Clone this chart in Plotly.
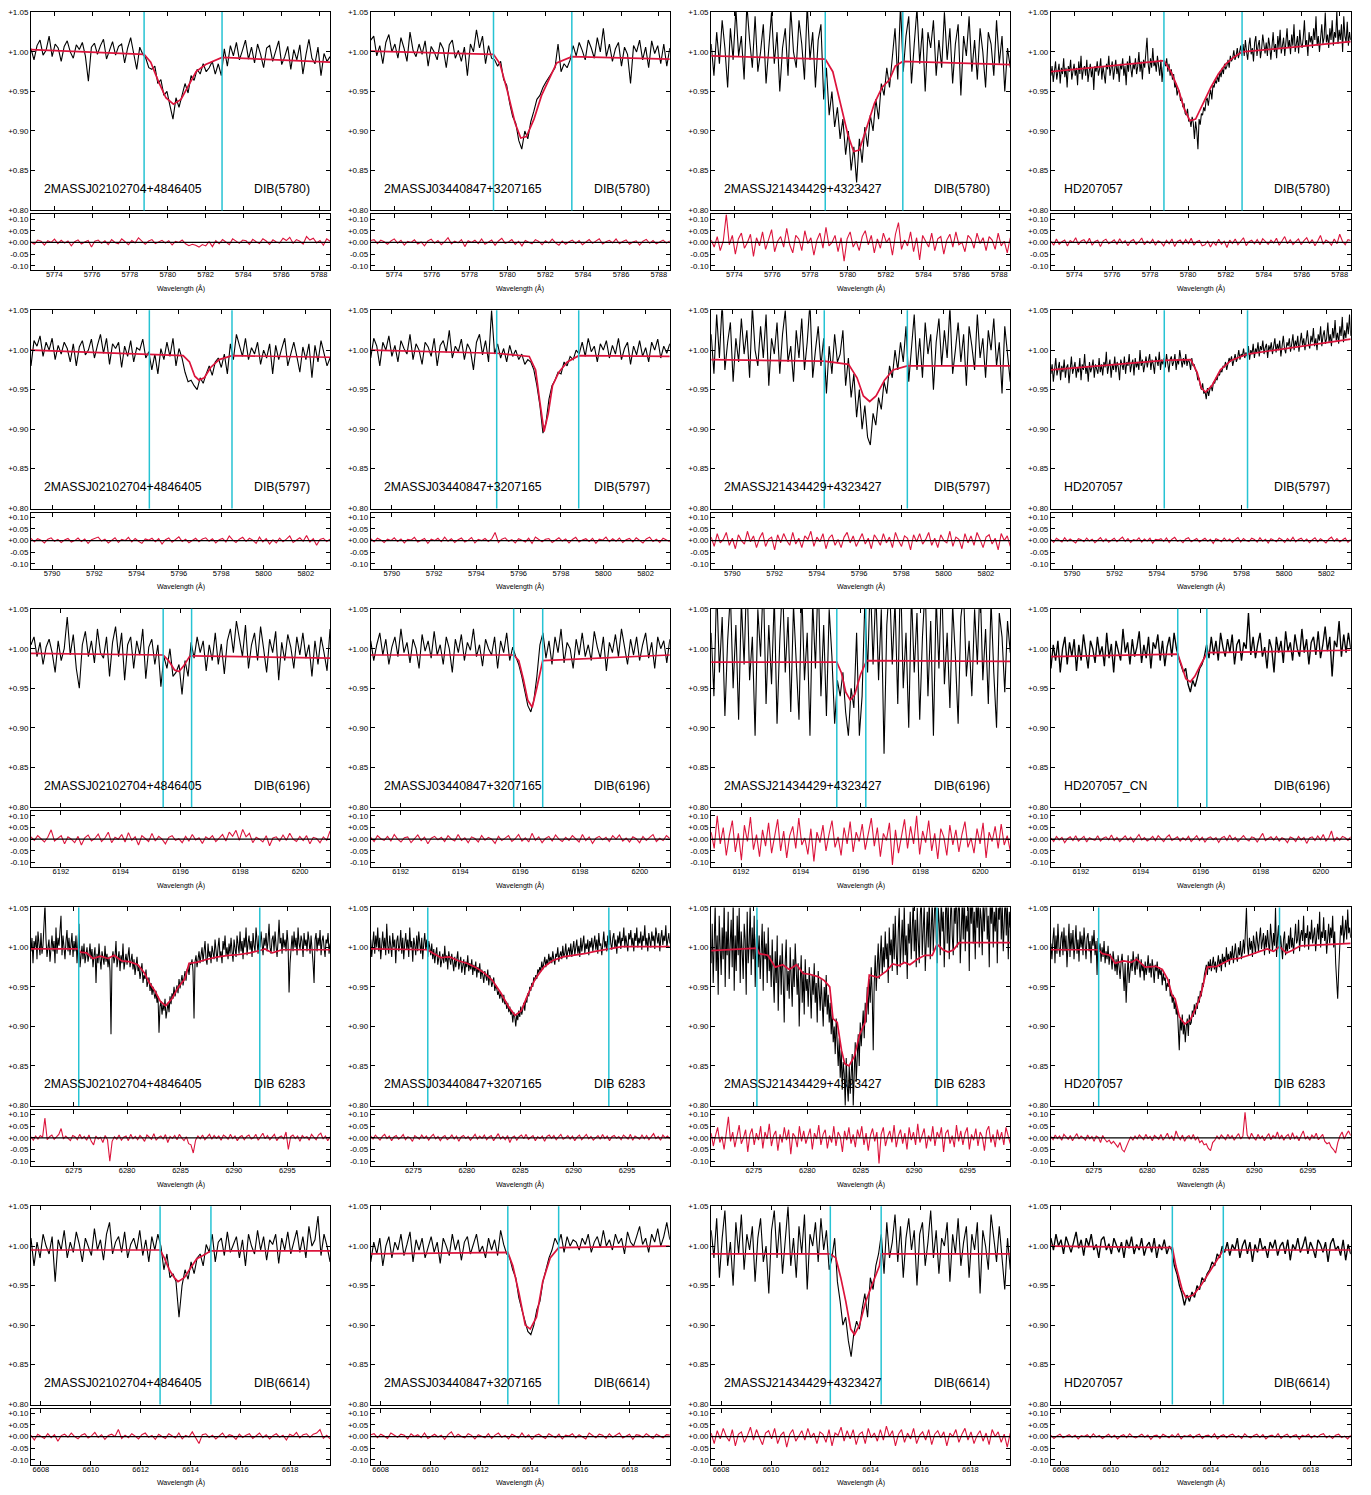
import numpy as np
import plotly.graph_objects as go

W, H = 1371, 1495
PAGE_OFF = 8  # default body margin of the html page

# ---------------- axes per row (wavelength in Angstrom) ----------------
X_RANGES = [[5772.77, 5788.58], [5789.0, 5803.15], [6191.0, 6201.0], [6271.0, 6299.0], [6607.6, 6619.6]]
X_TICKS = [[5774, 5776, 5778, 5780, 5782, 5784, 5786, 5788],
           [5790, 5792, 5794, 5796, 5798, 5800, 5802],
           [6192, 6194, 6196, 6198, 6200],
           [6275, 6280, 6285, 6290, 6295],
           [6608, 6610, 6612, 6614, 6616, 6618]]
Y_MAIN_TICKS = [0.80, 0.85, 0.90, 0.95, 1.00, 1.05]
Y_MAIN_TEXT = ['+0.80', '+0.85', '+0.90', '+0.95', '+1.00', '+1.05']
Y_RES_TICKS = [-0.10, -0.05, 0.0, 0.05, 0.10]
Y_RES_TEXT = ['-0.10', '-0.05', '+0.00', '+0.05', '+0.10']

DIB_LABELS = ['DIB(5780)', 'DIB(5797)', 'DIB(6196)', 'DIB 6283', 'DIB(6614)']
STARS = ['2MASSJ02102704+4846405', '2MASSJ03440847+3207165', '2MASSJ21434429+4323427', 'HD207057']
STAR_NAMES = [STARS, STARS, STARS[:3] + ['HD207057_CN'], STARS, STARS]

# integration windows (cyan lines)
WINDOWS = [[[5778.75, 5782.87], [5779.26, 5783.40], [5778.80, 5782.90], [5778.73, 5782.85]],
           [[5794.60, 5798.51], [5794.96, 5798.84], [5794.35, 5798.28], [5794.35, 5798.28]],
           [[6195.42, 6196.37], [6195.78, 6196.75], [6195.20, 6196.17], [6195.23, 6196.20]],
           [[6275.47, 6292.42], [6276.34, 6293.29], [6275.28, 6292.14], [6275.46, 6292.35]],
           [[6612.78, 6614.82], [6613.10, 6615.14], [6612.38, 6614.42], [6612.46, 6614.50]]]

# ---------------- spectra: (flux - 1) x 1000, sampled uniformly over the row range ----------------
S11 = [4, -10, 8, 15, -4, 2, 20, -6, 10, 5, -12, 7, 14, 0, -8, 9, 3, 12, -5, -37,
       6, 11, -3, 8, 16, -9, 2, 13, -4, 7, 10, -14, 5, 18, -2, -22, 6, -3, -8, -20,
       -22, -18, -40, -35, -55, -50, -68, -85, -58, -70, -55, -40, -52, -30, -36, -22, -28, -15, -25, -20,
       -12, -28, -15, -30, 4, -18, 8, -5, 12, -10, 2, 15, -9, 6, -14, 10, -3, -20, 5, 8,
       -12, 0, 14, -16, -6, 7, -22, 3, -10, 9, -28, -4, 16, -8, -15, 6, -30, -2, -12, -6]
S12 = [15, 20, -5, 8, -15, 12, 22, 0, 10, -8, 18, 5, -12, 25, 2, -6, 10, -3, 14, -18,
       7, 0, -10, 12, 4, -20, 9, 15, -8, 2, -12, 6, -30, 10, 0, 28, 5, 20, -15, 8,
       -8, -10, -18, -12, -35, -42, -65, -82, -90, -112, -123, -100, -110, -88, -75, -60, -55, -45, -38, -32,
       -25, -20, 10, -25, -15, -20, -10, 8, -5, 12, 2, -10, 15, 5, -8, 18, 0, 30, -6, 10,
       -12, 4, 12, -18, 6, -3, -40, 8, 0, 15, -10, 6, -20, 14, -2, 8, -15, 10, -18, 5]
S13 = [10, -30, 25, -15, 40, 5, -45, 30, -10, 55, -5, 20, -35, 60, 15, -20, 45, -25, 0, 35,
       -40, 10, 50, -15, 25, -50, 5, 30, -30, 55, 0, -20, 40, 10, -35, 60, -10, 25, -45, 15,
       35, -60, -20, -80, -50, -95, -70, -110, -85, -130, -100, -150, -120, -165, -110, -140, -95, -120, -80, -100,
       -60, -85, -40, -55, -20, -45, -10, 30, -35, 60, -25, 20, 45, -40, 10, 55, -15, 30, -50, 25,
       5, 40, -30, 15, -20, 50, -10, 30, -40, 10, 35, -55, 20, -5, 45, -25, 15, -35, 30, 0,
       -45, 25, 10, -30, 40, -15, 20, -50, 5, -20]
S14 = [-30, -18, -38, -22, -12, -35, -25, -15, -40, -20, -28, -8, -32, -20, -45, -18, -25, -10, -35, -22,
       -15, -30, -20, -42, -12, -28, -5, -35, -22, -18, -30, -10, -38, -25, -15, -32, -20, -48, -18, -25,
       -12, -30, -22, -8, -35, -18, -28, -40, -15, -22, -5, -30, -20, -12, -35, -25, -10, -28, -18, -38,
       -15, -22, -8, -30, -18, -42, -12, -25, -5, -20, -32, -15, -22, -8, -28, -18, 0, -25, -12, -35,
       -10, -20, -5, 18, -15, -28, -8, -20, 5, -18, -12, -25, -5, -15, -30, -10, -38, -20,
       -12, -18, -8, -25, -15, -30, -22, -35, -28, -45, -40, -55, -48, -50, -62, -58, -70, -65, -78, -80, -72, -88,
       -85, -95, -82, -90, -110, -88, -100, -123, -85, -92, -78, -80, -70, -75, -62, -58, -68, -55, -48, -60,
       -42, -45, -35, -40, -30, -38, -25, -32, -20, -28, -15, -22, -18, -10, -20, -5, -12, -8, 2, -10, -5, 5, -8, 0, 8, -5,
       10, -5, 15, 0, -10, 8, 18, -3, 5, -12, 12, 20, -5, 8, 15, -8, 3, 22, 5, -2,
       12, -5, 18, 8, -10, 15, 25, 0, 10, -8, 20, 5, 28, -2, 12, 18, -5, 10, 30, 5,
       15, -3, 22, 8, 35, 0, 12, 20, -2, 28, 10, 5, 18, 40, 8, 15, -5, 25, 12, 20,
       5, 30, 15, 45, 8, 20, 0, 25, 35, 10, 18, 50, 12, 22, 5, 30, 15, 40, 8, 25,
       18, 52, 10, 28, 15, 35, 0, 45, 20, 12, 38, 8, 25, 15]
S21 = [-20, 12, 5, 18, -8, 10, 0, 15, -12, 6, -5, 10, 2, -15, 8, -20, 4, 12, -6, 0,
       14, -10, 6, 20, -4, 15, -18, 8, 2, 10, -22, 5, -8, 12, -15, 3, 0, 14, -10, -2,
       -25, -5, -30, 2, -12, 10, -8, 15, -20, 2, -10, -28, -40, -38, -45, -50, -35, -42, -30, -20,
       -32, -15, -10, -22, -5, -30, 8, -12, 20, 5, -8, 15, -12, 3, -5, 10, -18, 0, -10, 8,
       -30, 6, -12, 2, 15, -20, -5, 10, -8, -28, 4, -12, 8, -35, 6, -15, 12, -5, -20, -10]
S22 = [-10, 15, 5, -20, 10, 0, 18, -8, 6, -15, 12, 2, -5, 20, -12, 8, 0, -18, 10, 4,
       -8, 15, -20, 6, 12, -3, 25, -10, 5, -2, 14, -12, 8, 0, -25, 10, 20, -6, 12, -15,
       50, -5, 8, -10, 2, -15, 6, -8, 0, -12, -5, -18, -12, -15, -25, -45, -70, -105, -92, -62,
       -45, -38, -28, -30, -15, -20, -8, -12, 0, -5, 10, -8, 15, -2, 5, -15, 8, 0, 12, -10,
       6, -5, 15, -12, 2, 10, -18, 5, -6, 12, -8, 3, -15, 10, 0, 14, -10, 5, -4, 8]
S23 = [20, -30, 45, -10, 60, -25, 10, 35, -40, 15, -15, 40, -5, 25, -35, 55, 0, -20, 30, -10,
       45, -45, 15, -5, 35, -30, 20, 50, -15, 5, -40, 25, -10, 40, -25, 10, 60, -35, 0, 30,
       -20, 15, -55, 5, -30, 20, -15, -5, 25, -45, -10, -60, -30, -85, -50, -100, -70, -110, -120, -80,
       -95, -60, -75, -40, -55, -20, -35, 0, -25, 10, -15, 30, -40, 5, 45, -25, 15, -35, 35, -5,
       20, -50, 10, 40, -20, 25, -10, 55, -30, 0, 35, -15, 20, -45, 30, 5, -25, 45, -10, 15,
       -35, 25, 0, 40, -20, 10, -55, 30, -5, -40]
S24 = [-30, -18, -40, -22, -10, -32, -25, -15, -38, -20, -28, -12, -35, -22, -18, -42, -25, -8, -30, -20,
       -15, -35, -22, -28, -10, -38, -18, -25, -5, -30, -20, -40, -15, -28, -22, -12, -35, -18, -25, -30,
       -10, -28, -18, -32, -15, -22, -2, -30, -20, -12, -35, -18, -25, -8, -28, -15, -22, -38, -12, -20,
       -25, -8, -30, -15, -20, -5, -28, -18, -12, -32, -10, -22, -15, -25, 0, -20, -12, -28, -18, -8,
       -22, -15, -5, -25, -12, -18, -30, -8, -15, -20, -2, -25, -12, -18, -10, -22, -5, -15, -28, -12,
       -8, -20, -15, -5, -25, -12, -18, 0, -15, -22, -10, -18, -5, -20, -12, -15, -25, -10, -20, -18,
       -25, -28, -38, -35, -45, -50, -42, -55, -52, -62, -48, -58, -50, -45, -52, -40, -42, -35, -38, -30,
       -32, -25, -28, -20, -22, -15, -25, -18, -10, -15, -8, -20, -12, -5, -15, -10, 0, -12, -5, -8, 2, -10, -3,
       -8, 5, -12, 0, -5, 8, -10, 2, -3, 10, -8, 5, 0, 12, -5, 3, 8, -10, 6, 0,
       10, -5, 5, 15, -3, 8, 0, 12, -8, 6, 18, 2, -4, 10, 5, 15, -2, 8, 20, 0,
       12, 5, 18, -2, 10, 22, 6, 15, 0, 12, 25, 8, 2, 18, 10, 28, 5, 15, 0, 20,
       12, 30, 5, 18, 25, 8, 15, 35, 10, 20, 5, 28, 15, 38, 12, 22, 8, 30, 18, 42, 10, 25, 15, 35, 20, 45, 18]
S31 = [5, 15, -10, 8, -20, 2, 12, -5, -30, 10, -15, 0, 40, -8, 18, -25, -50, 5, 22, -10,
       10, -18, 25, -5, -12, 15, -35, 8, 28, -10, 20, -40, 5, 15, -25, 10, -8, 25, -38, 2,
       12, -20, 5, -48, -10, -25, 0, -35, -30, -20, -58, -15, -35, 8, -12, 15, -5, 10, -28, 5,
       -15, 20, -20, 6, -32, 10, 25, -5, 35, 15, -10, 30, -25, 5, 20, -15, 28, 0, -30, 12,
       -5, 22, -40, 8, -15, 18, 2, -25, 15, -8, 20, -12, 5, -35, 10, -20, 15, -5, -28, 25]
S32 = [10, -15, 5, 20, -8, 12, -20, 2, 15, -10, 25, -5, 8, -18, 12, 0, -25, 18, -3, 10,
       -12, 22, -8, 5, -20, 15, 0, -30, 12, -5, 18, -15, 8, -2, 25, -10, 5, -22, 12, 0,
       -8, 15, -25, 10, -5, 20, -15, 2, -10, -20, -35, -55, -72, -80, -65, -35, 5, 20, -12, 10,
       -20, 15, -5, 25, -18, 8, 0, -25, 12, -8, 20, -10, 5, -15, 22, 2, -12, 15, -28, 8,
       -5, 18, -10, 25, 0, -20, 12, -8, 15, -15, 5, 20, -12, 8, -25, 15, 0, 10, -18, 12]
S33 = [20, -60, 80, -30, 40, -85, 10, 70, -50, 30, -90, 60, -20, 100, -40, 15, -110, 50, -10, 90,
       -70, 30, -45, 65, -95, 10, 85, -30, 40, -80, 55, -15, -90, 75, -40, 20, -110, 60, -25, 95,
       -60, 30, -85, 50, -10, -95, -40, -60, -30, -80, -110, -50, -75, 20, -110, -60, 60, -30, 90, -20,
       75, -40, 50, -133, 30, 85, -20, 60, -70, 100, -50, 20, -100, 70, -30, 45, -90, 15, 80, -60,
       35, -110, 65, -25, 90, -45, 20, -75, 55, -10, -95, 40, 70, -35, 10, -60, 50, -20, 85, -40,
       25, -70, 60, -30, -100, 45, 15, -55, 35, -5]
S34 = [-25, 5, -15, 10, -30, 0, 15, -20, 8, -10, 12, -28, 5, -15, 18, -5, -25, 10, 0, -18,
       15, -8, 3, -22, 20, -12, 6, -30, 10, -3, -15, 25, -5, 8, -20, 12, -10, 2, 22, -18,
       5, -12, 15, -25, 8, 0, 18, -15, 10, -22, 2, 15, -10, 20, 0, -12, -20, -30, -25, -45,
       -55, -40, -48, -35, -25, -20, -10, 5, -12, 15, -8, 10, -15, 20, 2, -10, 12, -5, 18, -20,
       5, 12, -15, 8, 0, 45, -8, 15, -12, 6, 20, -10, 2, -25, 12, 0, -30, 15, -5, 10,
       -18, 22, -3, 8, -15, 18, 0, -10, 25, -5, 12, -20, 8, 15, -8, 22, -12, 5, 28, -3,
       15, -35, 10, 2, 35, -10, 18, -5, 20, 0]
S41 = [-5, 12, -20, 8, 0, 15, -15, 20, 5, -10, 18, -8, 2, 25, 55, 10, -12, 0, 10, -18,
       5, 15, -5, 8, -20, 25, -8, 12, 2, 20, 40, -10, 15, 0, -15, 8, 22, -5, 12, -10,
       5, 18, -12, 8, -5, 15, -20, 2, 30, -25, -8, 2, -15, 5, -20, -8, 0, -18, -10, 5,
       -15, -2, -25, -10, 0, -45, -8, -20, 5, -15, -28, -5, -12, -22, 2, -18, -8, -25, -12, -30,
       -110, -15, -5, -20, -12, 8, -25, -15, -5, -30, -10, -20, 5, -28, -15, -8, -22, -12, 0, -25,
       -18, -8, -28, -15, -35, -22, -12, -30, -25, -40, -30, -20, -45, -35, -40, -28, -50, -42, -38, -55,
       -45, -60, -50, -58, -65, -55, -70, -62, -108, -75, -68, -85, -72, -80, -65, -90, -75, -70, -82, -62,
       -72, -58, -65, -50, -62, -55, -48, -58, -40, -52, -45, -35, -48, -38, -30, -42, -28, -25, -35, -20,
       -22, -15, -30, -90, -18, -10, -25, -15, -5, -20, -12, 0, -18, -8, 8, -15, -22, 5, -12, -5,
       -20, 2, -10, -15, 10, -8, -18, 0, 12, -12, -5, -20, 8, -3, 15, -10, 0, -15, 5, -8,
       12, -5, -18, 10, 0, -12, 15, 2, -8, 20, -5, 8, -15, 12, 0, 25, -10, 5, 15, -3,
       8, -12, 18, 2, -5, 25, 10, -8, 15, 0, 20, 5, -10, 12, 2, 18, -5, 8, 30, 0,
       -8, 10, 15, -5, 20, 2, -12, 8, 35, 5, 12, -8, 18, 0, 10, -5, 22, 5, -57, -20,
       8, 15, -5, 20, 0, 12, -10, 25, 5, -3, 15, 8, -12, 18, 2, 10, -5, 20, 8, -8,
       15, 0, -20, -45, 10, 18, -5, 12, 2, 22, -10, 8, 15, 0, -12, 10, 5, 18, -8, 5]
S42 = [10, -12, 5, 20, -8, 15, 0, 25, -5, 12, -15, 8, 20, -3, 12, -10, 30, 2, -8, 15,
       5, -12, 18, 0, 10, -20, 8, 15, -5, 2, 22, -8, 12, -15, 5, 18, -2, 10, -12, 25,
       0, 8, -18, 12, 3, -10, 15, -5, 20, 2, -8, 12, -15, 5, 18, -3, 10, -12, 8, 0,
       -10, 5, -15, -2, -20, -8, 0, -22, -12, -5, -25, -15, -8, -20, 2, -18, -10, -28, -5, -15,
       -22, -8, -18, -30, -12, -25, -15, -5, -28, -20, -12, -32, -22, -15, -35, -18, -25, -10, -30, -20,
       -28, -15, -35, -22, -30, -18, -38, -25, -32, -20, -40, -28, -35, -45, -30, -38, -42, -28, -48, -35,
       -40, -50, -45, -38, -55, -48, -52, -60, -55, -65, -58, -62, -70, -60, -72, -68, -78, -70, -82, -75,
       -85, -80, -95, -82, -88, -100, -85, -92, -80, -88, -75, -85, -78, -70, -80, -65, -70, -58, -62, -50,
       -55, -45, -50, -38, -42, -35, -40, -28, -32, -25, -30, -18, -28, -20, -12, -25, -15, -22, -8, -18,
       -12, -20, -5, -15, -22, -8, -12, 0, -18, -10, -5, -15, 2, -12, -8, 5, -15, -5, 0, -10,
       5, -12, -3, 8, -10, 0, 10, -8, 2, -12, 12, -5, 3, 15, -8, 5, -2, 10, -10, 8,
       0, 12, -5, 8, 15, -3, 10, -8, 18, 2, 5, -10, 12, 20, 0, 8, -5, 15, 3, 22,
       5, -3, 12, 18, 0, 10, -8, 15, 5, 20, -2, 12, 8, 25, 0, 15, 5, -5, 18, 10,
       22, 2, 12, -5, 18, 8, 25, 0, 12, 5, 20, -3, 15, 8, 28, 2, 12, -5, 18, 10,
       0, 20, 8, 15, -2, 25, 10, 5, 18, -5, 12, 22, 3, 15, 8, 28, 0, 12, 18, 5]
S43 = [-20, 30, -45, 10, 55, -30, 15, -60, 40, 0, -35, 25, -15, 60, -50, 20, -10, 45, -40, 5,
       35, -25, 60, -55, 15, -30, 40, -10, 50, -45, 20, -5, -40, 30, 10, -60, 45, -20, 5, 55,
       -35, 25, -15, 40, -50, 10, 35, -25, 15, -40, -5, 30, -55, 20, -15, 5, -45, 25, -30, -10,
       -50, 10, -35, -70, -5, -45, 15, -80, -25, -10, -60, 5, -40, -95, -20, 10, -55, -30, -65, 0,
       -40, -75, -15, -50, 5, -35, -60, -20, -100, -45, -10, -70, -30, -85, -15, -55, -40, -75, -25, -50,
       -90, -35, -60, -20, -70, -45, -95, -30, -55, -80, -40, -65, -100, -50, -75, -35, -85, -60, -95, -70,
       -110, -80, -120, -100, -135, -90, -125, -150, -115, -165, -130, -180, -145, -160, -200, -140, -175, -195, -150, -185,
       -160, -135, -200, -145, -120, -170, -130, -110, -150, -95, -125, -100, -80, -115, -70, -95, -50, -85, -40, -70,
       -25, -60, -130, -45, -10, -55, -30, 5, -40, -20, 15, -35, 0, -25, 20, -15, 5, -45, 25, -10,
       10, -30, 30, -15, 40, -5, -35, 20, 50, -25, 0, 35, -20, 55, -10, 15, -40, 30, 5, 45,
       -15, 25, 60, -5, 35, -25, 50, 10, -20, 40, 65, -10, 30, 55, -30, 15, 45, 0, 70, -15,
       25, 60, -5, 40, 75, 10, -20, 50, 30, -10, 65, 20, 45, -25, 35, 80, 5, 55, -15, 40,
       70, 15, -10, 50, 30, 85, 0, 45, 65, -20, 35, 60, 10, 75, -5, 40, 20, 55, -30, 65,
       30, 80, 5, 45, -15, 60, 25, 70, 0, 50, 35, -10, 65, 20, 55, 85, 10, 40, -25, 60,
       30, 75, 0, 45, 20, 65, -20, 50, 35, 80, 10, 55, -5, 40, 70, 15, 60, -15, 45, 25]
S44 = [5, -15, 10, 25, -20, 15, -8, 30, 0, -12, 12, 20, -10, 25, -5, 15, -25, 8, 30, -12,
       18, -2, 22, -15, 5, 28, -8, 10, -18, 20, 0, 15, -10, 25, 5, -15, 12, 18, -5, 8,
       -20, 15, 2, 22, -10, 8, -35, 12, -5, 5, -18, 0, -12, 8, -20, -5, -15, 2, -22, -8,
       -12, -28, -5, -20, -30, -15, -35, -10, -22, -40, -18, -8, -30, -55, -20, -70, -38, -10, -45, -25,
       -15, -30, -5, -22, -35, -12, -28, -8, -20, -38, -15, -30, -22, -42, -18, -35, -25, -10, -32, -20,
       -38, -15, -28, -45, -22, -30, -18, -40, -25, -35, -28, -48, -32, -42, -38, -55, -45, -50, -40, -62,
       -55, -70, -60, -78, -68, -85, -75, -95, -130, -90, -105, -85, -110, -95, -120, -100, -90, -112, -85, -98,
       -95, -80, -88, -72, -85, -70, -78, -62, -70, -55, -62, -45, -50, -35, -30, -22, -35, -18, -28, -15,
       -30, -20, -12, -28, -18, -32, -22, -10, -25, -15, -30, -8, -20, -12, -25, 0, -18, -8, -22, -5,
       -15, 2, -20, -8, 5, -12, -18, 0, -10, 8, -15, -5, 10, -8, 15, 50, 2, -10, 12, -3,
       8, -12, 15, 0, -8, 20, 5, -5, 12, 25, -2, 8, 18, -10, 15, 0, 22, 5, -8, 30,
       10, -5, 18, 2, 50, -12, 12, 28, -8, 15, 0, -15, 10, 20, -10, 5, -5, 15, -2, 25,
       0, 12, -8, 18, 30, 5, 10, 35, -5, 15, 22, 8, 40, 0, 18, 12, 28, -3, 20, 10,
       35, 5, 15, 25, -5, 18, 30, 10, 45, 0, 20, 12, 38, 8, 22, -8, 15, 30, 5, 25,
       12, 40, 0, 20, -20, -45, -65, -30, 10, 28, 15, 40, 5, 22, 35, 10, 48, 18, 25, 12]
S51 = [10, -25, 5, -15, 15, 0, -10, 12, -45, 8, -5, 20, -15, 5, -8, 18, 2, -20, 10, 0,
       -12, 22, -5, 8, -18, 15, 30, -10, 5, 12, -8, 18, -15, 2, 10, -5, 20, -12, 8, -20,
       12, -5, 15, 0, -30, -10, -40, -35, -45, -90, -50, -30, -42, -20, -35, -15, -10, -25, 2, -8,
       15, -20, 5, 10, -12, 18, -8, 2, 12, -15, 8, -25, 15, 0, -10, 20, -5, 12, -18, 8,
       2, 15, -22, 10, -5, 18, -10, 5, 20, -8, 12, -15, 25, 0, 8, 38, -12, 15, 0, -20]
S52 = [-20, 5, -10, 10, -25, 0, 12, -15, 5, -5, 15, -12, 2, 18, -20, 8, -5, 10, -15, 0,
       12, -8, 5, -22, 10, 0, -12, 15, -5, 8, -18, 5, 12, -10, 2, 15, -8, 0, -15, 10,
       -5, 8, -12, 20, 2, -10, -15, -30, -40, -65, -80, -95, -108, -112, -100, -80, -70, -45, -30, -15,
       -5, 10, 2, 15, -8, 12, 0, 8, 5, -5, 10, 2, 15, -8, 5, 12, -2, 20, 0, 8,
       -5, 15, 3, 10, -10, 18, 5, 0, 12, 25, 2, 10, -8, 15, 5, 22, 0, 12, 30, 8]
S53 = [20, -15, 35, -40, 10, 45, -25, 5, -50, 30, -10, 40, -30, 15, -5, 25, -45, 10, 35, -20,
       0, -60, 20, 45, -15, 30, -35, 5, 50, -25, 10, -40, 25, -10, 40, -55, 15, 0, 30, -20,
       35, -5, 20, -30, -15, 10, -45, -70, -100, -90, -120, -140, -110, -95, -105, -80, -60, -90, -40, -55,
       -25, -10, 15, -35, 30, -15, 5, 40, -20, 25, -40, 10, 35, -5, 20, -50, 15, 30, -25, 5,
       45, -15, 20, -35, 10, 0, 30, -45, 15, -10, 35, -25, 5, 25, -40, 15, -5, 30, -60, 20,
       0, -30, 40, 10, -20, 25, -15, -55, 10, -30]
S54 = [10, -5, 15, 0, 8, -10, 12, 2, -8, 5, 18, -3, 8, -12, 10, 0, 15, -5, 2, -15,
       8, 12, -5, 3, -10, 10, 0, -8, 5, -15, 8, -3, 12, -10, 2, -5, 10, -12, 0, 5,
       -8, 10, -15, 2, -5, 8, -10, 0, -5, -25, -35, -50, -60, -75, -62, -70, -58, -65, -50, -55,
       -40, -45, -35, -30, -20, -25, -10, -15, 0, -8, 5, -12, 2, -5, 10, -15, 0, 8, -10, 5,
       -20, 2, -8, 10, -5, 0, -15, 5, -3, 8, -12, 0, 5, -10, 8, -18, 2, -5, 10, -8,
       0, 12, -10, 5, -3, -15, 8, 2, -8, 5, -20, 3, 10, -5, 0, -12, 8, -18, 2, -10]

# ---------------- residuals (data - model) x 1000 ----------------
R11 = [2, -8, 10, 5, -12, 7, 0, 14, -5, 9, -3, 6, -15, 3, 11, -7, 2, 8, -20, 5, 10, -4, 7, -9, 12, 0, -6, 15, 3, -10,
       8, -2, 20, 4, -8, 6, 12, -5, 2, 9, -3, 7, -11, 4, 0, 10, -6, -14, -8, -12, -20, -9, -15, 3, -18, 8, -6, 12, 2, -10,
       15, 5, -4, 10, 7, -8, 13, 3, -5, 16, 6, -9, 11, 2, -3, 18, 8, 22, -4, 12, 5, -7, 25, 10, 18, -2, 8, -12, 15, 5]
R12 = [8, 12, -5, 10, 3, -8, 6, 15, -3, 9, -12, 4, 0, 11, -7, 2, -15, 6, 14, -4, 8, -10, 3, 20, -6, 5, -2, 12, -18, 7,
       0, 9, -5, 15, -8, 3, 10, -12, 6, 18, -4, 2, 12, -9, 5, -15, 8, 1, -6, 12, 4, -10, 7, -3, 14, -2, -12, 6, -8, 3,
       10, -5, 8, -10, 2, 12, -4, 6, 16, -7, 3, 9, -2, 15, -6, 4, 11, -8, 2, 7, -12, 5, 13, -4, 8, -6, 3, 10, -3, 6]
R13 = [10, -20, 25, -35, 5, 120, -10, 30, -50, 15, 40, -25, 0, 35, -60, 20, -15, 45, -30, 10, 55, -40, 5, 25, -20,
       60, -10, -45, 30, 15, -35, 50, -5, 20, -55, 10, 40, -25, 65, -15, 0, 30, -40, 20, -80, 15, 45, -20, 5, -35,
       25, 50, -10, 30, -45, 15, -25, 40, 0, 20, -55, 35, 85, -30, 10, -15, 45, -40, 20, -75, 30, 5, -20, 40, -35,
       15, 25, -50, 10, 35, -20, 45, -10, 0, -40, 30, 15, -25, 40, -5, 20, -35, 25, 10, -30, 40, -15, 5, -45, 20]
R14 = [5, -12, 15, -8, 3, 10, -15, 8, 0, 20, -10, 6, 12, -5, 18, -12, 4, 9, -18, 7, 14, -6, 2, 11, -9, 16, -3, 8,
       -14, 5, 12, -8, 3, 19, -10, 6, -4, 13, -12, 7, 0, -15, 9, -6, 15, -18, 4, 10, -8, 12, -5, 18, -12, 3, 8, -15,
       -10, 6, -20, 2, -12, 14, -8, 5, -22, 10, -5, 15, -10, 7, 20, -14, 3, 9, -6, 12, -10, 16, 4, -8, 10, -3, 18,
       -12, 6, 25, -6, 11, -9, 4, 15, -10, 8, 20, -5, 12, -14, 6, 30, -8, 10, 2, -12, 15, -6, 35, 5, -10, 12, 8]
R21 = [10, -5, 8, 2, -10, 6, 12, -3, 5, -8, 3, 9, -6, 0, 11, -4, 7, -12, 4, 8, 15, -2, 6, -10, 3, 12, -8, 5, 0, 14,
       -6, 9, -3, -12, 7, 2, 10, -5, 8, -15, 4, 11, -7, 3, 16, -4, 6, -9, 2, 10, -5, 7, 12, -3, 8, -10, 4, 9, -6, 20,
       3, -8, 6, 14, -4, 10, 2, -12, 15, -6, 8, -15, 3, -10, 11, -5, 6, 20, -8, 4, 12, -3, 22, -6, 8, -20, 5, 10, -4, 6]
R22 = [8, -5, 10, 3, -8, 6, 0, 12, -4, 7, -10, 5, 2, 14, -6, 3, 9, -12, 6, 0, 10, -5, 15, -3, 8, -8, 4, 11, -6, 2,
       13, -10, 5, 0, 9, -4, 7, 35, -8, 6, 12, -3, 4, -10, 8, 2, -6, 10, -12, 15, 3, -5, 6, 9, -8, 4, 12, -2, 7, -10,
       5, 14, -6, 3, 8, -4, 10, -12, 6, 2, 15, -5, 8, -3, 11, -8, 4, 9, -6, 12, 2, -10, 7, 15, -4, 6, -8, 10, 3, -5]
R23 = [15, -25, 30, -10, 5, 35, -20, 10, -35, 25, 0, -15, 40, -5, 20, -30, 10, 35, -25, 5, 15, -40, 25, -10, 30,
       0, -20, 35, -15, 10, -30, 20, 5, 40, -25, 15, -5, 30, -35, 10, 25, -20, 5, -30, 15, 35, -10, 20, -25, 0,
       30, -15, 10, -35, 25, 5, -20, 30, -10, 15, -30, 35, 0, -25, 20, 10, -40, 25, -5, 30, -15, 5, 35, -20, 10,
       -30, 25, 0, -10, 40, -25, 15, 5, -35, 30, -10, 20, -20, 35, 5, -30, 15, 25, -15, 10, -40, 30, 0, 20, -25]
R24 = [5, -8, 10, 2, -6, 12, -3, 7, 0, -10, 8, 4, -5, 11, -2, 6, -9, 3, 13, -4, 8, -7, 2, 10, -5, 6, 15, -3, 9, -8,
       4, 0, 12, -6, 7, -2, 10, -11, 5, 3, 8, -4, 11, -8, 6, 14, -3, 2, -9, 7, 12, -5, 4, 9, -6, 2, 10, -3, 6, -12,
       8, 3, -5, 11, -2, 7, -8, 4, 13, -6, 9, 0, -4, 10, 5, -7, 12, -3, 6, -10, 8, 2, -5, 11, 4, -8, 9, -2, 14, -6,
       5, 10, -4, 7, -9, 3, 12, -5, 8, 0, -10, 6, 15, -3, 9, -6, 4, 11, -8, 5]
R31 = [10, -5, 15, 2, -12, 8, 40, -8, 5, 15, -20, 10, 0, -15, 12, -25, 6, 18, -8, 3, 22, -10, 5, 30, -15, 8, 0, 20,
       -12, 28, -5, 10, -25, 15, 3, -10, 25, -8, 12, 0, -20, 8, 15, -5, 2, -15, 12, -8, 20, -3, 6, -18, 10, 0, 15,
       -10, 5, 20, -8, 30, 12, 38, -5, 42, 10, 25, -15, 8, 0, -12, 15, -28, 5, 10, -8, 18, -5, 25, 0, -10, 12, -6,
       15, -20, 8, 3, -15, 10, -5, 35]
R32 = [8, -10, 15, 2, -5, 12, -8, 20, 0, -12, 6, 10, -15, 3, 18, -6, 9, -20, 4, 12, -3, 8, -10, 15, 0, -8, 20, -5,
       6, -15, 10, 3, -12, 16, -4, 8, 0, -18, 12, -6, 5, 15, -10, 2, 20, -8, 6, -12, 25, -5, 10, -15, 3, 12, -8, 18,
       0, -10, 8, -5, 15, 2, -12, 20, -6, 10, -18, 4, 12, -3, 8, -10, 15, 0, 18, -8, 5, -12, 10, 2, -15, 12, -5, 8,
       20, -10, 4, -6, 15, 3]
R33 = [30, -40, 100, -20, 50, -70, 15, 80, -55, 25, -90, 60, -10, 95, -45, 20, -75, 40, -30, 70, -60, 10, 85, -50,
       35, -80, 15, 55, -40, 90, -25, 5, -65, 45, -95, 30, -15, 60, -50, 20, 80, -35, 10, -70, 50, -20, 75, -55, 30,
       -10, 65, -45, 15, 90, -30, 50, -75, 25, -5, 70, -110, 40, -60, 20, 85, -40, 55, -20, 100, -65, 35, -15, 80,
       -50, 25, -85, 45, 10, -70, 60, -25, 40, -55, 20, 75, -35, 5, -60, 45, -20, 70, -80, 30, -10, 55, -40, 65,
       -25, 15, -50]
R34 = [5, -10, 12, -3, 8, -15, 2, 10, -6, 15, -8, 3, 12, -12, 6, 0, -5, 15, -8, 4, 10, -3, 18, -6, 8, -10, 2, 14,
       -4, 9, -12, 5, 20, -3, 7, -8, 0, 12, -6, 15, 3, -10, 8, 18, -5, 2, 10, -8, 6, -4, 12, -10, 3, 15, -6, 8, -12,
       4, 10, -2, 7, -14, 5, 12, -5, 18, -3, 8, -10, 2, 15, 0, -8, 10, 5, -12, 8, 25, -6, 3, 10, -4, 12, -8, 6, 0,
       -15, 9, 4, -10, 12, -3, 8, -18, 5, 10, -6, 14, -2, 20, -8, 5, 35, -10, 8, -4, 12, 6, -5, 10]
R41 = [5, -10, 8, -5, 10, 2, 85, -8, 5, 12, -6, 3, 15, 40, -5, 8, 0, -12, 10, 5, -8, 15, -3, 6, -10, 12, -15, -30,
       8, -5, 2, -20, 10, -8, -100, -15, 5, -6, 12, -10, 3, 8, -12, 15, -4, 6, -8, 10, 0, -15, 12, 4, -6, 18, -10,
       2, 8, -5, 14, -20, 6, -3, 10, -8, 15, 0, -12, 5, -25, -30, -65, -10, 8, -4, 12, -8, 3, 15, -6, 10, -2, 8,
       -10, 12, 5, -6, 15, -3, 8, -12, 4, 10, -8, 6, 12, -5, 0, 15, -10, 8, 20, -4, 10, -8, 6, 15, -12, 3, 8, -6,
       25, -50, 5, 12, -3, 8, -15, 10, 0, 6, -10, 15, 3, -8, 12, 20, -5, 8, -12, 5]
R42 = [8, -5, 12, 0, -10, 6, 15, -3, 8, -12, 4, 10, -6, 2, 14, -8, 5, 0, -15, 10, 3, -6, 12, -2, 8, -10, 5, 15, -4,
       6, -12, 3, 10, -8, 0, 12, -5, 8, -15, 4, 10, -3, 6, -10, 2, 15, -6, 8, -2, 12, -8, 4, 10, -12, 3, 18, -5, 6,
       -8, 10, -20, 2, 8, -10, 5, 12, -4, 15, -6, 3, 10, -12, 5, -3, 8, -15, 6, 12, -2, 10, -8, 4, 15, -6, 0, 10,
       -5, 8, -12, 3, 12, -8, 5, 15, -4, 6, -10, 2, 10, -6, 14, -3, 8, -12, 5, 10, -2, 6, -8, 12, 3, -5, 15, -10,
       8, 2, -6, 12, -4, 10, -8, 5, 18, -3, 6, -10, 12, 0, 8, -5]
R43 = [20, -35, 10, 45, -20, 5, -50, 30, 90, -15, 25, -40, 10, 55, -25, 0, 35, -60, 15, 40, -30, 20, -10, 50, -45,
       25, -5, 60, -35, 10, 30, -55, 15, -20, 45, -10, 35, -70, 20, 5, -40, 50, -15, 30, -25, 10, 40, -50, 20, -5,
       55, -30, 15, 35, -45, 10, -20, 50, -35, 25, 5, -60, 30, -10, 45, -25, 15, -40, 35, 0, 50, -30, 20, -55, 10,
       40, -15, 25, -110, 15, 45, -35, 5, 30, -20, 55, -40, 10, 35, -25, 20, -50, 45, -10, 25, -30, 60, -20, 15,
       40, -45, 10, -15, 50, -35, 25, 0, 45, -60, 20, 35, -25, 10, -40, 55, -15, 30, -30, 20, 45, -50, 15, -10, 40,
       -35, 25, 5, -55, 30, 50, -20, 15, -40, 35, -10, 25, -30, 45, 10, -25]
R44 = [5, -8, 12, -3, 8, -10, 15, 2, -6, 10, -12, 4, 18, -5, 8, 0, -10, 12, -4, 6, -15, 8, 2, -20, 10, -6, -18, -10,
       -25, -15, -30, -40, -20, -50, -60, -35, -15, 5, -10, 8, -5, 12, 0, -8, 15, -3, 6, -12, 10, 2, -6, 15, -10, 4,
       20, -5, 8, -12, 30, 5, -8, 12, -15, 3, 10, -6, 15, -10, 5, -20, -12, -30, -25, -45, -55, -20, -10, 8, -5, 12,
       3, -8, 15, -2, 10, -10, 6, 18, -5, 8, 110, 12, -6, 20, 2, -10, 15, -3, 8, -12, 5, 18, -8, 10, 0, 25, -5, 12,
       -10, 6, 15, -8, 22, -3, 8, -12, 10, 30, -5, 6, -10, 12, 0, 20, -8, 5, 15, -15, -25, -20, -40, -50, -65, -20,
       8, 25, -5, 15, 30, 10]
R51 = [5, -15, 10, 2, -8, 12, -5, 8, -20, 4, 10, -3, 15, 0, -10, 6, 12, -6, 3, 18, -4, 8, -12, 5, 10, 0, 30, -8, 6,
       -5, 12, 2, -10, 8, 15, -3, 5, -12, 10, 0, -8, 12, 4, -6, 15, -10, 5, -2, 20, -5, -30, 8, 12, -4, 6, -10, 2, 15,
       -6, 8, 3, -12, 10, -4, 6, 12, -8, 2, 15, -5, 8, -10, 4, 12, -3, 6, -15, 10, 2, 18, -6, 8, 12, -4, 10, 15, 30,
       -8, 5, -10]
R52 = [8, 12, -5, 10, 2, -8, 15, 4, -3, 10, 6, -10, 12, 0, 8, -5, 15, -8, 3, 10, -2, 6, -12, 8, 20, -4, 10, 0, -6,
       12, 5, -10, 8, 3, -5, 12, -8, 6, 15, -3, 5, -10, 10, 2, -6, 15, -4, 8, -12, 5, 10, 0, -8, 12, 4, -5, 10, -10,
       6, 2, 12, -6, 8, 0, -10, 15, 3, -5, 10, 6, -8, 12, -3, 5, 15, -6, 2, 10, -12, 8, 5, -4, 12, 0, -8, 10, 3, -5,
       8, 6]
R53 = [15, -30, 25, -10, 35, 0, -20, 30, -40, 10, 20, -25, 5, 40, -15, 30, -5, -35, 15, 25, -10, 35, -30, 5, 20,
       -45, 10, 30, -20, 0, 25, -15, 35, -5, 15, -30, 20, 10, -25, 30, -40, 15, 5, 40, -20, 25, -10, 30, -35, 10,
       20, -30, 35, -5, 15, -20, 30, -15, 45, 0, 25, -40, 10, 30, -25, 15, -10, 35, -30, 5, 20, -15, 30, -35, 10,
       25, -5, 20, -40, 15, 0, 30, -25, 10, 35, -15, 20, -30, 5, 25, -20, 15, -35, 30, 0, 20, -25, 10, -45, 15]
R54 = [5, -8, 3, 10, -5, 2, 8, -3, 6, -10, 4, 0, 8, -6, 12, -2, 5, -8, 3, 10, -4, 6, -10, 2, 8, -5, 12, 0, -6, 4,
       10, -3, 7, -12, 3, 6, -8, 10, 2, -5, 8, -3, 12, -10, 4, 0, 8, -6, 5, 10, -8, 3, 6, -4, 12, -10, 2, 8, -5, 6,
       10, -3, 4, -8, 12, 0, -6, 5, 10, -4, 8, -10, 2, 6, -3, 12, -8, 4, 10, -5, 3, 8, -12, 6, 0, 10, -6, 5, -3, 8,
       12, -5, 4, -8, 6, 10, -4, 2, -10, 6]

# ---------------- model fits (wavelength, flux) ----------------
F11_X = [5772.77, 5778.75, 5779.1, 5779.5, 5779.9, 5780.3, 5780.7, 5781.1, 5781.5, 5782.0, 5782.87, 5788.58]
F11_Y = [1.003, 0.997, 0.987, 0.963, 0.942, 0.934, 0.940, 0.958, 0.975, 0.984, 0.993, 0.987]
F12_X = [5772.77, 5779.26, 5779.6, 5780.0, 5780.4, 5780.7, 5781.0, 5781.4, 5781.8, 5782.2, 5782.6, 5783.4, 5788.58]
F12_Y = [1.001, 0.997, 0.985, 0.950, 0.910, 0.891, 0.893, 0.915, 0.945, 0.965, 0.986, 0.994, 0.991]
F13_X = [5772.77, 5778.8, 5779.2, 5779.6, 5780.0, 5780.3, 5780.6, 5781.0, 5781.4, 5781.8, 5782.2, 5782.5, 5782.9, 5788.58]
F13_Y = [0.995, 0.991, 0.975, 0.935, 0.895, 0.874, 0.876, 0.905, 0.935, 0.955, 0.965, 0.982, 0.988, 0.984]
F14_X = [5772.77, 5778.73, 5779.1, 5779.5, 5779.8, 5780.1, 5780.4, 5780.8, 5781.2, 5781.6, 5782.0, 5782.4, 5782.85, 5788.58]
F14_Y = [0.975, 0.989, 0.975, 0.952, 0.928, 0.913, 0.915, 0.935, 0.955, 0.972, 0.985, 0.993, 1.000, 1.013]
F21_X = [5789.0, 5794.6, 5796.2, 5796.5, 5796.75, 5796.95, 5797.2, 5797.5, 5797.9, 5798.51, 5803.15]
F21_Y = [1.000, 0.995, 0.993, 0.985, 0.967, 0.962, 0.965, 0.978, 0.988, 0.993, 0.991]
F22_X = [5789.0, 5794.96, 5796.5, 5796.8, 5797.0, 5797.2, 5797.4, 5797.6, 5797.9, 5798.3, 5798.84, 5803.15]
F22_Y = [1.000, 0.996, 0.992, 0.975, 0.935, 0.897, 0.920, 0.955, 0.972, 0.985, 0.993, 0.992]
F23_X = [5789.0, 5794.35, 5795.5, 5795.9, 5796.2, 5796.5, 5796.8, 5797.2, 5797.6, 5798.28, 5803.15]
F23_Y = [0.988, 0.986, 0.982, 0.965, 0.942, 0.935, 0.942, 0.962, 0.975, 0.980, 0.980]
F24_X = [5789.0, 5794.35, 5795.6, 5795.9, 5796.1, 5796.3, 5796.6, 5797.0, 5797.5, 5798.28, 5803.15]
F24_Y = [0.975, 0.987, 0.988, 0.972, 0.952, 0.947, 0.955, 0.975, 0.987, 0.995, 1.014]
F31_X = [6191.0, 6195.42, 6195.6, 6195.8, 6195.95, 6196.1, 6196.3, 6196.37, 6201.0]
F31_Y = [0.994, 0.992, 0.985, 0.973, 0.971, 0.978, 0.990, 0.991, 0.988]
F32_X = [6191.0, 6195.78, 6195.95, 6196.1, 6196.25, 6196.4, 6196.55, 6196.75, 6201.0]
F32_Y = [0.992, 0.992, 0.985, 0.962, 0.935, 0.926, 0.950, 0.985, 0.992]
F33_X = [6191.0, 6195.2, 6195.35, 6195.5, 6195.65, 6195.8, 6196.0, 6196.17, 6196.2, 6201.0]
F33_Y = [0.983, 0.983, 0.970, 0.945, 0.935, 0.942, 0.968, 0.983, 0.985, 0.984]
F34_X = [6191.0, 6195.23, 6195.35, 6195.5, 6195.65, 6195.8, 6196.0, 6196.2, 6196.22, 6201.0]
F34_Y = [0.990, 0.993, 0.980, 0.962, 0.958, 0.965, 0.980, 0.993, 0.995, 0.998]
F41_X = [6271.0, 6275.47, 6275.6, 6276.2, 6276.8, 6277.5, 6278.2, 6278.8, 6279.5, 6280.2, 6281.0, 6281.6, 6282.1,
         6282.6, 6283.1, 6283.6, 6284.2, 6284.8, 6285.4, 6285.8, 6286.5, 6287.5, 6288.5, 6289.5, 6290.5, 6291.5,
         6292.42, 6292.9, 6293.6, 6294.5, 6299.0]
F41_Y = [0.998, 0.998, 0.994, 0.993, 0.986, 0.989, 0.986, 0.990, 0.983, 0.982, 0.978, 0.968, 0.955, 0.945, 0.932,
         0.926, 0.935, 0.950, 0.960, 0.980, 0.981, 0.985, 0.988, 0.990, 0.991, 0.993, 0.996, 0.998, 0.993, 0.997, 0.997]
F42_X = [6271.0, 6276.34, 6276.8, 6277.6, 6278.4, 6279.2, 6280.0, 6280.8, 6281.6, 6282.4, 6283.2, 6283.9, 6284.5,
         6285.1, 6285.7, 6286.4, 6287.2, 6288.0, 6289.0, 6290.0, 6291.0, 6292.0, 6293.29, 6294.5, 6299.0]
F42_Y = [0.998, 0.997, 0.993, 0.987, 0.988, 0.983, 0.980, 0.975, 0.968, 0.958, 0.942, 0.925, 0.914, 0.920, 0.940,
         0.960, 0.975, 0.983, 0.988, 0.990, 0.992, 0.995, 0.998, 1.001, 1.001]
F43_X = [6271.0, 6275.28, 6275.5, 6276.3, 6277.0, 6277.7, 6278.3, 6279.0, 6279.6, 6280.2, 6281.0, 6281.6, 6282.1,
         6282.4, 6282.8, 6283.2, 6283.5, 6283.9, 6284.4, 6284.9, 6285.4, 6285.8, 6286.6, 6287.4, 6288.0, 6288.6,
         6289.1, 6289.6, 6290.3, 6291.0, 6291.7, 6292.14, 6292.7, 6293.2, 6293.7, 6294.2, 6299.0]
F43_Y = [0.996, 0.999, 0.992, 0.990, 0.975, 0.978, 0.972, 0.978, 0.967, 0.966, 0.963, 0.958, 0.950, 0.910, 0.905,
         0.870, 0.853, 0.850, 0.862, 0.890, 0.905, 0.965, 0.962, 0.970, 0.979, 0.977, 0.981, 0.978, 0.985, 0.990,
         0.990, 1.004, 0.997, 0.994, 0.997, 1.006, 1.006]
F44_X = [6271.0, 6275.46, 6275.8, 6276.5, 6277.0, 6277.8, 6278.5, 6279.0, 6279.8, 6280.8, 6281.4, 6281.9, 6282.3,
         6282.6, 6283.0, 6283.5, 6284.0, 6284.5, 6285.0, 6285.6, 6286.5, 6287.2, 6287.8, 6288.5, 6289.5, 6290.5,
         6291.2, 6291.8, 6292.35, 6293.0, 6293.5, 6294.3, 6299.0]
F44_Y = [0.997, 0.997, 0.992, 0.990, 0.980, 0.983, 0.981, 0.985, 0.975, 0.976, 0.972, 0.960, 0.940, 0.935, 0.912,
         0.903, 0.908, 0.922, 0.940, 0.975, 0.976, 0.981, 0.985, 0.986, 0.990, 0.995, 0.998, 0.995, 1.001, 0.993,
         0.996, 1.002, 1.005]
F51_X = [6607.6, 6612.78, 6612.95, 6613.15, 6613.35, 6613.5, 6613.75, 6614.0, 6614.25, 6614.5, 6614.82, 6619.6]
F51_Y = [0.995, 0.995, 0.985, 0.970, 0.960, 0.955, 0.960, 0.972, 0.984, 0.988, 0.994, 0.994]
F52_X = [6607.6, 6613.1, 6613.3, 6613.55, 6613.8, 6614.0, 6614.25, 6614.5, 6614.8, 6615.14, 6619.6]
F52_Y = [0.990, 0.992, 0.975, 0.940, 0.900, 0.895, 0.910, 0.955, 0.985, 0.998, 1.000]
F53_X = [6607.6, 6612.38, 6612.6, 6612.8, 6613.0, 6613.2, 6613.35, 6613.55, 6613.8, 6614.1, 6614.35, 6614.42, 6619.6]
F53_Y = [0.990, 0.990, 0.985, 0.960, 0.930, 0.895, 0.888, 0.900, 0.930, 0.955, 0.975, 0.990, 0.990]
F54_X = [6607.6, 6612.46, 6612.6, 6612.85, 6613.0, 6613.3, 6613.6, 6613.8, 6614.1, 6614.4, 6614.5, 6619.6]
F54_Y = [1.000, 0.998, 0.975, 0.945, 0.935, 0.938, 0.950, 0.960, 0.975, 0.990, 0.995, 0.995]

SPECTRA = [[S11, S12, S13, S14], [S21, S22, S23, S24], [S31, S32, S33, S34], [S41, S42, S43, S44], [S51, S52, S53, S54]]
RESIDS = [[R11, R12, R13, R14], [R21, R22, R23, R24], [R31, R32, R33, R34], [R41, R42, R43, R44], [R51, R52, R53, R54]]
FITS_X = [[F11_X, F12_X, F13_X, F14_X], [F21_X, F22_X, F23_X, F24_X], [F31_X, F32_X, F33_X, F34_X],
          [F41_X, F42_X, F43_X, F44_X], [F51_X, F52_X, F53_X, F54_X]]
FITS_Y = [[F11_Y, F12_Y, F13_Y, F14_Y], [F21_Y, F22_Y, F23_Y, F24_Y], [F31_Y, F32_Y, F33_Y, F34_Y],
          [F41_Y, F42_Y, F43_Y, F44_Y], [F51_Y, F52_Y, F53_Y, F54_Y]]

# ---------------- layout (page pixel geometry) ----------------
COL_PX = [(30.0, 329.3), (370.0, 669.3), (710.7, 1010.0), (1050.7, 1350.7)]
ROW_TOP = [8.0, 307.8, 608.0, 908.3, 1208.6]
MAIN_H, GAP, RES_H = 199.5, 4.0, 56.3

FW, FH = W - PAGE_OFF, H - PAGE_OFF
FONT = 'Liberation Sans, Arial, Helvetica, sans-serif'
RED = '#dc143c'
CYAN = '#26c3d3'


def fx(p):
    return min(1.0, max(0.0, (p - PAGE_OFF) / FW))


def fy(p):
    return min(1.0, max(0.0, 1 - (p - PAGE_OFF) / FH))


axis_style = dict(showline=True, linecolor='black', linewidth=1, mirror='allticks', ticks='inside',
                  ticklen=4, tickwidth=1, tickcolor='black', showgrid=False, zeroline=False,
                  tickfont=dict(family=FONT, size=8, color='black'))

fig = go.Figure()
layout = {}
shapes = []
annotations = []

k = 0
for r in range(5):
    lo, hi = X_RANGES[r]
    top = ROW_TOP[r]
    main_bot = top + MAIN_H
    res_top = main_bot + GAP
    res_bot = res_top + RES_H
    for c in range(4):
        xl, xr = COL_PX[c]
        im, ir = 2 * k + 1, 2 * k + 2
        xm = 'x' if im == 1 else f'x{im}'
        ym = 'y' if im == 1 else f'y{im}'
        xres, yres = f'x{ir}', f'y{ir}'
        layout['xaxis' if im == 1 else f'xaxis{im}'] = dict(
            axis_style, domain=[fx(xl), fx(xr)], range=[lo, hi], anchor=ym,
            tickvals=X_TICKS[r], showticklabels=False)
        layout['yaxis' if im == 1 else f'yaxis{im}'] = dict(
            axis_style, domain=[fy(main_bot), fy(top)], range=[0.7995, 1.0505], anchor=xm,
            tickvals=Y_MAIN_TICKS, ticktext=Y_MAIN_TEXT)
        layout[f'xaxis{ir}'] = dict(
            axis_style, domain=[fx(xl), fx(xr)], range=[lo, hi], anchor=yres,
            tickvals=X_TICKS[r], ticktext=[str(t) for t in X_TICKS[r]], ticklabelstandoff=-3,
            tickfont=dict(family=FONT, size=7.5, color='black'))
        layout[f'yaxis{ir}'] = dict(
            axis_style, domain=[fy(res_bot), fy(res_top)], range=[-0.12, 0.12], anchor=xres,
            tickvals=Y_RES_TICKS, ticktext=Y_RES_TEXT)

        spec = np.array(SPECTRA[r][c], dtype=float)
        xs = np.linspace(lo, hi, len(spec))
        if len(spec) >= 240:
            lw = 1.05
        elif c == 3:
            lw = 1.35
        else:
            lw = 1.1
        fig.add_trace(go.Scatter(x=xs, y=1 + spec / 1000.0, mode='lines',
                                 line=dict(color='black', width=lw), xaxis=xm, yaxis=ym,
                                 showlegend=False, hoverinfo='skip'))
        fig.add_trace(go.Scatter(x=FITS_X[r][c], y=FITS_Y[r][c], mode='lines',
                                 line=dict(color=RED, width=1.7), xaxis=xm, yaxis=ym,
                                 showlegend=False, hoverinfo='skip'))
        res = np.array(RESIDS[r][c], dtype=float)
        xres_vals = np.linspace(lo, hi, len(res))
        fig.add_trace(go.Scatter(x=xres_vals, y=res / 1000.0, mode='lines',
                                 line=dict(color=RED, width=1.1), xaxis=xres, yaxis=yres,
                                 showlegend=False, hoverinfo='skip'))

        for wv in WINDOWS[r][c]:
            shapes.append(dict(type='line', xref=xm, yref=f'{ym} domain', x0=wv, x1=wv, y0=0, y1=1,
                               line=dict(color=CYAN, width=1.5)))
        shapes.append(dict(type='line', xref=f'{xres} domain', yref=yres, x0=0, x1=1, y0=0, y1=0,
                           line=dict(color='black', width=1.2)))

        annotations.append(dict(text=STAR_NAMES[r][c], xref='paper', yref='paper',
                                x=fx(xl + 11), y=fy(main_bot - 21.5), xanchor='left', yanchor='middle',
                                showarrow=False, font=dict(family=FONT, size=12.3, color='black')))
        annotations.append(dict(text=DIB_LABELS[r], xref='paper', yref='paper',
                                x=fx(xl + 221), y=fy(main_bot - 21.5), xanchor='left', yanchor='middle',
                                showarrow=False, font=dict(family=FONT, size=12.3, color='black')))
        annotations.append(dict(text='Wavelength (Å)', xref='paper', yref='paper',
                                x=fx((xl + xr) / 2), y=fy(res_bot + 18.5), xanchor='center', yanchor='middle',
                                showarrow=False, font=dict(family=FONT, size=7, color='black')))
        k += 1

fig.update_layout(width=FW, height=FH, margin=dict(l=0, r=0, t=0, b=0),
                  paper_bgcolor='white', plot_bgcolor='white', showlegend=False,
                  shapes=shapes, annotations=annotations, **layout)

fig.write_html('out.html')
